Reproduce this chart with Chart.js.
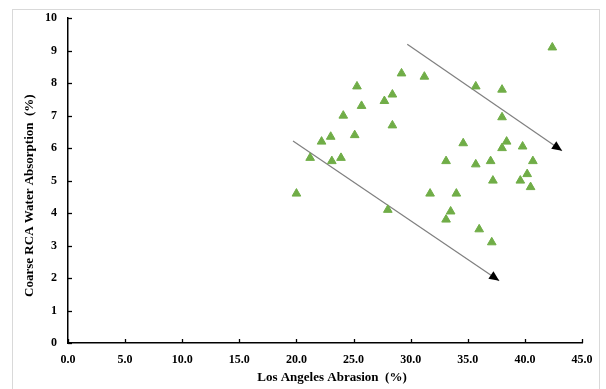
<!DOCTYPE html>
<html>
<head>
<meta charset="utf-8">
<script src="https://cdn.jsdelivr.net/npm/chart.js@4.4.1/dist/chart.umd.min.js"></script>
<style>
    body { margin: 0; background: #fff; }
    #wrap { position: relative; width: 606px; height: 389px; }
    #frame { position: absolute; left: 12px; top: 9px; width: 588px; height: 400px; border: 1px solid #d9d9d9; box-sizing: border-box; }
    canvas { position: absolute; left: 0; top: 0; }
</style>
</head>
<body>
<div id="wrap">
    <div id="frame"></div>
    <canvas id="chart" width="606" height="389"></canvas>
</div>
<script>
// Los Angeles abrasion (%) vs coarse RCA water absorption (%)
const abrasion = [20.0, 21.2, 22.2, 23.0, 23.1, 23.9, 24.1, 25.1, 25.3, 25.7,
    27.7, 28.4, 28.4, 28.0, 29.2, 31.2, 31.7, 33.1, 33.1, 33.5,
    34.0, 34.6, 35.7, 35.7, 36.0, 37.0, 37.2, 37.1, 38.0, 38.0,
    38.0, 38.4, 39.8, 39.6, 40.2, 40.7, 40.5, 42.4];
const absorption = [4.6, 5.7, 6.2, 6.35, 5.6, 5.7, 7.0, 6.4, 7.9, 7.3,
    7.45, 7.65, 6.7, 4.1, 8.3, 8.2, 4.6, 5.6, 3.8, 4.05,
    4.6, 6.15, 5.5, 7.9, 3.5, 5.6, 5.0, 3.1, 7.8, 6.95,
    6.0, 6.2, 6.05, 5.0, 5.2, 5.6, 4.8, 9.1];

// trend arrows: [start, tip]
const lowerArrowX = [19.7, 37.75];
const lowerArrowY = [6.22, 1.92];
const upperArrowX = [29.7, 43.25];
const upperArrowY = [9.2, 5.92];

const xTickLabels = ['0.0', '5.0', '10.0', '15.0', '20.0', '25.0', '30.0', '35.0', '40.0', '45.0'];
const yTickLabels = ['0', '1', '2', '3', '4', '5', '6', '7', '8', '9', '10'];

const xTitle = 'Los Angeles Abrasion  (%)';
const yTitle = 'Coarse RCA Water Absorption  (%)';

const serif = "'Liberation Serif', 'Times New Roman', serif";

function toPoints(xs, ys) {
    return xs.map((x, i) => ({ x: x, y: ys[i] }));
}

// inward tick marks, arrowheads and axis titles
const extras = {
    id: 'extras',
    afterDraw(chart) {
        const ctx = chart.ctx;
        const xs = chart.scales.x;
        const ys = chart.scales.y;
        const area = chart.chartArea;

        ctx.save();
        ctx.strokeStyle = '#000';
        ctx.lineWidth = 1.3;
        xs.ticks.forEach(t => {
            const px = Math.round(xs.getPixelForValue(t.value)) + 0.5;
            ctx.beginPath();
            ctx.moveTo(px, area.bottom);
            ctx.lineTo(px, area.bottom - 4);
            ctx.stroke();
        });
        ys.ticks.forEach(t => {
            const py = Math.round(ys.getPixelForValue(t.value)) + 0.5;
            ctx.beginPath();
            ctx.moveTo(area.left, py);
            ctx.lineTo(area.left + 4, py);
            ctx.stroke();
        });

        // arrowheads at the last point of each line dataset
        chart.data.datasets.forEach((ds, i) => {
            if (!ds.arrow) return;
            const pts = chart.getDatasetMeta(i).data;
            const a = pts[0], b = pts[pts.length - 1];
            const ang = Math.atan2(b.y - a.y, b.x - a.x);
            const len = 10, half = 4.5;
            ctx.fillStyle = '#000';
            ctx.beginPath();
            ctx.moveTo(b.x, b.y);
            ctx.lineTo(b.x - len * Math.cos(ang) + half * Math.sin(ang), b.y - len * Math.sin(ang) - half * Math.cos(ang));
            ctx.lineTo(b.x - len * Math.cos(ang) - half * Math.sin(ang), b.y - len * Math.sin(ang) + half * Math.cos(ang));
            ctx.closePath();
            ctx.fill();
        });

        // axis titles
        ctx.fillStyle = '#000';
        ctx.font = 'bold 13px ' + serif;
        ctx.textAlign = 'center';
        ctx.textBaseline = 'middle';
        ctx.fillText(xTitle, (area.left + area.right) / 2 + 7, 378);
        ctx.translate(30, (area.top + area.bottom) / 2 + 15);
        ctx.rotate(-Math.PI / 2);
        ctx.fillText(yTitle, 0, 0);
        ctx.restore();
    }
};

const ctx = document.getElementById('chart').getContext('2d');
new Chart(ctx, {
    type: 'scatter',
    data: {
        datasets: [
            {
                label: 'data',
                data: toPoints(abrasion, absorption),
                pointStyle: 'triangle',
                pointRadius: 5,
                pointHoverRadius: 5,
                backgroundColor: '#70ad47',
                borderColor: '#70ad47',
                borderWidth: 1,
                order: 0
            },
            {
                type: 'line',
                arrow: true,
                data: toPoints(lowerArrowX, lowerArrowY),
                borderColor: '#7f7f7f',
                borderWidth: 1.2,
                pointRadius: 0,
                fill: false,
                order: 1
            },
            {
                type: 'line',
                arrow: true,
                data: toPoints(upperArrowX, upperArrowY),
                borderColor: '#7f7f7f',
                borderWidth: 1.2,
                pointRadius: 0,
                fill: false,
                order: 1
            }
        ]
    },
    options: {
        responsive: false,
        animation: false,
        layout: { padding: { top: 17, right: 24, left: 0, bottom: 0 } },
        plugins: {
            legend: { display: false },
            tooltip: { enabled: false }
        },
        scales: {
            x: {
                type: 'linear',
                min: 0,
                max: 45,
                afterFit: s => { s.height = 46; },
                afterBuildTicks: s => { s.ticks = xTickLabels.map(v => ({ value: parseFloat(v) })); },
                ticks: {
                    color: '#000',
                    padding: 10,
                    maxRotation: 0,
                    font: { family: serif, size: 12, weight: 'bold' },
                    callback: (v, i) => xTickLabels[i]
                },
                grid: { display: false, drawTicks: false },
                border: { display: true, color: '#000', width: 1.5 }
            },
            y: {
                type: 'linear',
                min: 0,
                max: 10,
                afterFit: s => { s.width = 68; },
                afterBuildTicks: s => { s.ticks = yTickLabels.map(v => ({ value: parseFloat(v) })); },
                ticks: {
                    color: '#000',
                    padding: 11,
                    font: { family: serif, size: 12, weight: 'bold' },
                    callback: (v, i) => yTickLabels[i]
                },
                grid: { display: false, drawTicks: false },
                border: { display: true, color: '#000', width: 1.5 }
            }
        }
    },
    plugins: [extras]
});
</script>
</body>
</html>
